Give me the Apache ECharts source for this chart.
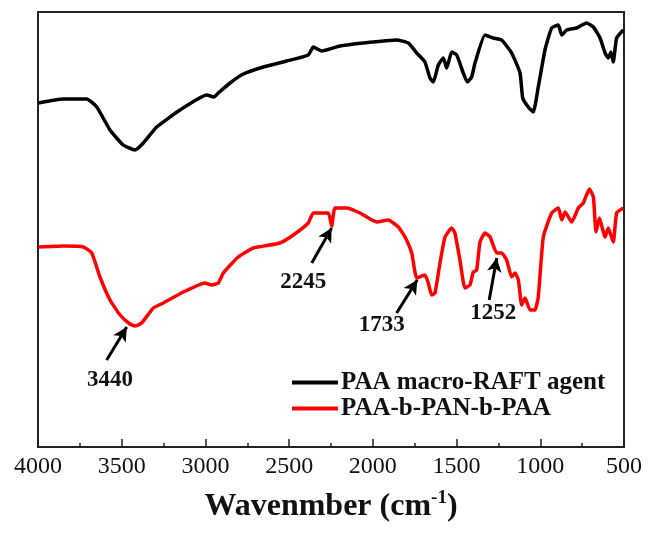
<!DOCTYPE html>
<html>
<head>
<meta charset="utf-8">
<script src="https://cdn.jsdelivr.net/npm/echarts@6/dist/echarts.min.js"></script>
<style>
  html, body { margin: 0; padding: 0; background: #fff; }
  #chart { width: 648px; height: 533px; }
</style>
</head>
<body>
<div id="chart"></div>
<script>
// wavenumber (cm-1) and transmittance (a.u.)
const paaWave = [3998, 3849, 3709, 3649, 3570, 3491, 3421, 3371, 3291, 3152, 2992, 2950, 2923, 2853, 2774, 2654, 2515, 2386, 2356, 2306, 2196, 2057, 1858, 1788, 1738, 1689, 1659, 1639, 1609, 1579, 1559, 1529, 1499, 1460, 1436, 1410, 1390, 1330, 1281, 1231, 1171, 1121, 1105, 1072, 1042, 1012, 972, 932, 892, 872, 842, 783, 723, 683, 643, 613, 594, 578, 564, 544, 504]
const paaT = [344, 348, 348, 340, 317, 302, 297, 304, 320, 337, 352, 350, 354, 364, 373, 380, 386, 392, 400, 396, 401, 404, 407, 404, 394, 385, 369, 365, 382, 389, 379, 395, 392, 374, 365, 370, 384, 412, 409, 407, 394, 374, 349, 340, 335, 360, 397, 419, 422, 412, 417, 419, 424, 420, 409, 394, 389, 395, 385, 409, 417]

const blockWave = [3998, 3849, 3729, 3679, 3630, 3570, 3510, 3451, 3421, 3381, 3311, 3252, 3132, 3003, 2963, 2923, 2893, 2804, 2714, 2555, 2475, 2386, 2356, 2316, 2266, 2246, 2226, 2156, 2077, 1977, 1908, 1848, 1808, 1768, 1738, 1689, 1669, 1649, 1629, 1599, 1569, 1529, 1510, 1480, 1450, 1420, 1400, 1380, 1360, 1330, 1300, 1260, 1231, 1201, 1171, 1151, 1131, 1111, 1091, 1061, 1032, 1012, 982, 932, 892, 872, 852, 812, 773, 743, 707, 683, 667, 647, 613, 594, 564, 544, 504]
const blockT = [200, 201, 200, 194, 170, 147, 132, 123, 121, 124, 139, 144, 155, 164, 162, 164, 174, 190, 199, 204, 212, 224, 234, 234, 234, 221, 239, 239, 234, 225, 227, 220, 210, 194, 169, 172, 164, 152, 154, 184, 210, 219, 214, 187, 159, 162, 175, 177, 205, 214, 210, 194, 194, 187, 170, 174, 167, 142, 149, 137, 137, 150, 210, 234, 239, 227, 235, 225, 239, 244, 258, 250, 215, 229, 210, 219, 205, 234, 239]

// peak labels: text, label point, arrow tail, arrow tip
const peakNames = ['3440', '2245', '1733', '1252']
const peakLabel = [[3570, 67], [2415, 165], [1947, 122], [1281, 134]]
const arrowFrom = [[3590, 87], [2365, 184], [1858, 134], [1305, 147]]
const arrowTo = [[3470, 120], [2246, 219], [1735, 167], [1260, 189]]

const xTicks = [4000, 3500, 3000, 2500, 2000, 1500, 1000, 500]

const serif = '"Liberation Serif", "Times New Roman", serif'
const zip = (a, b) => a.map((v, i) => [v, b[i]])

const chart = echarts.init(document.getElementById('chart'))
chart.setOption({
  animation: false,
  grid: { left: 38, right: 24, top: 12, bottom: 86, show: true, borderColor: '#222', borderWidth: 2 },
  xAxis: {
    type: 'value',
    inverse: true,
    min: xTicks[xTicks.length - 1],
    max: xTicks[0],
    interval: 500,
    axisLine: { lineStyle: { color: '#222', width: 2 } },
    axisTick: { inside: true, length: 8, lineStyle: { color: '#222', width: 1.5 } },
    minorTick: { show: true, splitNumber: 2, length: 4, lineStyle: { color: '#222', width: 1.5 } },
    splitLine: { show: false },
    axisLabel: { color: '#111', fontFamily: serif, fontSize: 24, margin: 8, formatter: (v) => String(v) },
    name: '{a|Wavenmber (cm}{s|-1}{a|)}',
    nameLocation: 'middle',
    nameGap: 42,
    nameTextStyle: {
      rich: {
        a: { fontFamily: serif, fontWeight: 'bold', fontSize: 32, color: '#111', lineHeight: 36 },
        s: { fontFamily: serif, fontWeight: 'bold', fontSize: 19, color: '#111', verticalAlign: 'top', lineHeight: 36, padding: [0, 0, 14, 0] },
      },
    },
  },
  yAxis: {
    type: 'value',
    min: 0,
    max: 435,
    axisLine: { show: true, lineStyle: { color: '#222', width: 2 } },
    axisTick: { show: false },
    axisLabel: { show: false },
    splitLine: { show: false },
  },
  legend: {
    orient: 'vertical',
    left: 287,
    top: 365,
    itemWidth: 46,
    itemHeight: 4,
    itemGap: 1,
    icon: 'rect',
    textStyle: { fontFamily: serif, fontWeight: 'bold', fontSize: 25, color: '#111', lineHeight: 24, padding: [0, 0, 0, -2] },
    data: ['PAA macro-RAFT agent', 'PAA-b-PAN-b-PAA'],
  },
  series: [
    {
      name: 'PAA macro-RAFT agent',
      type: 'line',
      data: zip(paaWave, paaT),
      showSymbol: false,
      smooth: 0.15,
      color: '#000',
      lineStyle: { width: 3.5, color: '#000' },
    },
    {
      name: 'PAA-b-PAN-b-PAA',
      type: 'line',
      data: zip(blockWave, blockT),
      showSymbol: false,
      smooth: 0.15,
      color: '#f00',
      lineStyle: { width: 3.5, color: '#f00' },
      markLine: {
        silent: true,
        symbol: ['none', 'arrow'],
        symbolSize: [11, 14],
        label: { show: false },
        lineStyle: { color: '#000', width: 3, type: 'solid' },
        data: peakNames.map((n, i) => [{ coord: arrowFrom[i] }, { coord: arrowTo[i] }]),
      },
      markPoint: {
        silent: true,
        symbol: 'circle',
        symbolSize: 0,
        label: {
          show: true,
          position: 'inside',
          formatter: (p) => p.name,
          fontFamily: serif,
          fontWeight: 'bold',
          fontSize: 23,
          color: '#111',
        },
        data: peakNames.map((n, i) => ({ name: n, coord: peakLabel[i] })),
      },
    },
  ],
})
</script>
</body>
</html>
